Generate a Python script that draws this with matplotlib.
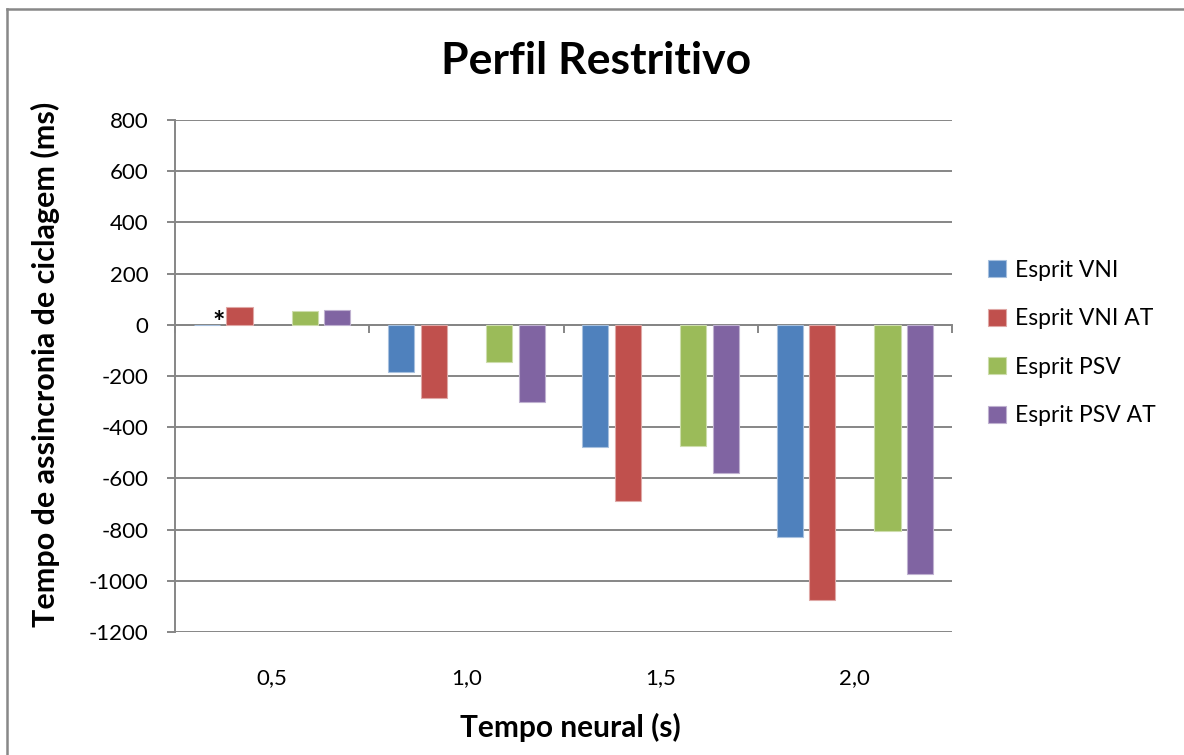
import matplotlib.pyplot as plt
from matplotlib.lines import Line2D
import numpy as np

plt.rcParams['font.family'] = ['Lato', 'DejaVu Sans']
plt.rcParams['axes.unicode_minus'] = False

# dados do grafico
tempos = ["0,5", "1,0", "1,5", "2,0"]
series = ["Esprit VNI", "Esprit VNI AT", "Esprit PSV", "Esprit PSV AT"]
esprit_vni = [0, -184, -477, -827]
esprit_vni_at = [70, -286, -690, -1074]
esprit_psv = [55, -146, -474, -807]
esprit_psv_at = [59, -300, -577, -973]
cores = ["#4F81BD", "#C0504D", "#9BBB59", "#8064A2"]
bordas = ["#A7C0DE", "#DFA8A6", "#CDDDAC", "#BFB1D0"]

valores = [esprit_vni, esprit_vni_at, esprit_psv, esprit_psv_at]
deslocamentos = [-2, -1, 1, 2]   # a posicao do meio fica vazia
passo = 0.168
largura = 0.134

fig = plt.figure(figsize=(11.84, 7.55), dpi=100)
ax = fig.add_axes([175 / 1184, 1 - 632 / 755, (952 - 175) / 1184, (632 - 120) / 755])

x = np.arange(len(tempos))
for i in range(len(series)):
    ax.bar(x + deslocamentos[i] * passo, valores[i], width=largura, color=cores[i],
           edgecolor=bordas[i], linewidth=0.8, label=series[i], zorder=3)

# asterisco no grupo 0,5
ax.text(x[0] + deslocamentos[0] * passo + 0.06, -45, "*", ha="center", va="bottom",
        fontsize=21, fontweight="bold", color="black", zorder=4)

ax.set_xlim(-0.5, len(tempos) - 0.5)
ax.set_ylim(-1200, 800)
ax.set_yticks(np.arange(-1200, 801, 200))
ax.yaxis.grid(True, color="#868686", linewidth=1.4, zorder=0)
ax.set_axisbelow(True)

for lado in ["top", "right"]:
    ax.spines[lado].set_visible(False)
ax.spines["left"].set_color("#868686")
ax.spines["left"].set_linewidth(1.4)
ax.spines["bottom"].set_position(("data", 0))
ax.spines["bottom"].set_color("#868686")
ax.spines["bottom"].set_linewidth(1.4)

ax.tick_params(axis="y", direction="out", length=6, width=1.4, color="#868686",
               labelsize=16, pad=13, labelcolor="black")
ax.set_xticks(np.arange(-0.5, len(tempos), 1.0))
ax.set_xticklabels([])
ax.tick_params(axis="x", direction="out", length=6, width=1.4, color="#868686")

# rotulos das categorias embaixo do grafico
for i, t in enumerate(tempos):
    ax.text(x[i], -1380, t, ha="center", va="center", fontsize=16, color="black")

fig.text(596 / 1184, 1 - 61 / 755, "Perfil Restritivo", ha="center", va="center",
         fontsize=32, fontweight="bold")
fig.text(570 / 1184, 1 - 727 / 755, "Tempo neural (s)", ha="center", va="center",
         fontsize=21.5, fontweight="bold")
fig.text(45 / 1184, 1 - 364 / 755, "Tempo de assincronia de ciclagem (ms)", ha="center",
         va="center", rotation=90, fontsize=22, fontweight="bold")

ax.legend(loc="center left", bbox_to_anchor=(977 / 1184, 1 - 343 / 755),
          bbox_transform=fig.transFigure, frameon=False, fontsize=16.5,
          handlelength=0.75, handleheight=0.75, handletextpad=0.4,
          labelspacing=1.2, borderpad=0)

# moldura do grafico
fig.add_artist(Line2D([7 / 1184, 1], [1 - 9 / 755, 1 - 9 / 755], color="#888888", linewidth=1.8))
fig.add_artist(Line2D([7 / 1184, 7 / 1184], [0, 1 - 9 / 755], color="#888888", linewidth=1.8))

fig.savefig("out.png", dpi=100)
